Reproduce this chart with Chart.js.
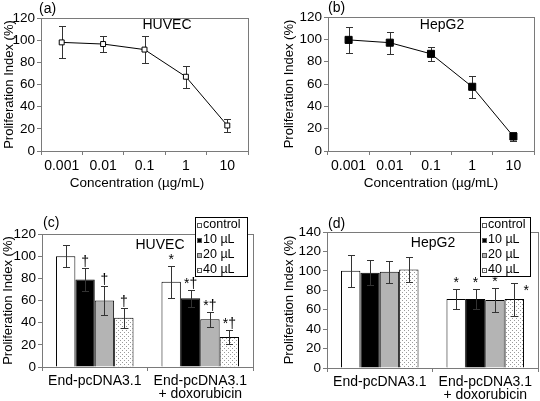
<!DOCTYPE html>
<html>
<head>
<meta charset="utf-8">
<script src="https://cdn.jsdelivr.net/npm/chart.js@4.4.1/dist/chart.umd.min.js"></script>
<style>
  html, body { margin: 0; padding: 0; background: #fff; }
  #wrap { position: relative; width: 540px; height: 401px; overflow: hidden; }
  .panel { position: absolute; }
</style>
</head>
<body>
<div id="wrap">
  <div class="panel" style="left:0;top:0;width:270px;height:200px"><canvas id="chartA" width="270" height="200"></canvas></div>
  <div class="panel" style="left:270px;top:0;width:270px;height:200px"><canvas id="chartB" width="270" height="200"></canvas></div>
  <div class="panel" style="left:0;top:200px;width:270px;height:201px"><canvas id="chartC" width="270" height="201"></canvas></div>
  <div class="panel" style="left:270px;top:200px;width:270px;height:201px"><canvas id="chartD" width="270" height="201"></canvas></div>
</div>
<script>
// --- data ---
const concLabels = ['0.001', '0.01', '0.1', '1', '10'];

const huvecConc    = [98, 96.5, 91.5, 67, 23];
const huvecConcErr = [14.5, 7, 12, 10, 6];

const hepg2Conc    = [99.5, 97, 87, 57.5, 13];
const hepg2ConcErr = [11.5, 10, 6, 10, 4];

const groupLabels = ['End-pcDNA3.1', ['End-pcDNA3.1', '+ doxorubicin']];
const doseLabels  = ['control', '10 µL', '20 µL', '40 µL'];

// HUVEC bars, one array per dose: [End-pcDNA3.1, + doxorubicin]
const huvecControl = [100, 77];
const huvec10      = [79, 62];
const huvec20      = [60, 43];
const huvec40      = [44.5, 27];
const huvecErr     = [[10, 14.5], [10, 7.5], [13.5, 7], [9, 6]];
const huvecMarks   = [['', '*'], ['†', '*†'], ['†', '*†'], ['†', '*†']];

// HepG2 bars
const hepg2Control = [100, 71];
const hepg2_10     = [98, 71];
const hepg2_20     = [99, 70];
const hepg2_40     = [101.5, 71];
const hepg2Err     = [[16.5, 10], [13, 10.5], [11, 12], [13, 17]];
const hepg2Marks   = [['', '*'], ['', '*'], ['', '*'], ['', '*']];

const yTicksA = [0, 120, 20];   // min, max, step
const yTicksC = [0, 120, 20];
const yTicksD = [0, 140, 20];

// --- styling ---
const FONT = 'Liberation Sans, Arial, Helvetica, sans-serif';
const AXIS_GRAY = '#7a7a7a';
const ERR_COLOR = '#333';

function dotPattern() {
  const c = document.createElement('canvas');
  c.width = 4; c.height = 4;
  const g = c.getContext('2d');
  g.fillStyle = '#fff';
  g.fillRect(0, 0, 4, 4);
  g.fillStyle = '#9a9a9a';
  g.fillRect(0, 0, 1, 1);
  g.fillRect(2, 2, 1, 1);
  return g.createPattern(c, 'repeat');
}

// frame around the plot area
const framePlugin = {
  id: 'frame',
  afterDatasetsDraw(chart) {
    const { ctx, chartArea: a } = chart;
    ctx.save();
    ctx.strokeStyle = AXIS_GRAY;
    ctx.lineWidth = 1;
    ctx.strokeRect(Math.round(a.left) + 0.5, Math.round(a.top) + 0.5,
      Math.round(a.right - a.left), Math.round(a.bottom - a.top));
    ctx.restore();
  }
};

// vertical error bars with caps, values taken from dataset.errors
function drawErrors(chart) {
  const { ctx } = chart;
  const y = chart.scales.y;
  ctx.save();
  ctx.strokeStyle = ERR_COLOR;
  ctx.lineWidth = 1;
  chart.data.datasets.forEach((ds, di) => {
    if (!ds.errors) return;
    const meta = chart.getDatasetMeta(di);
    meta.data.forEach((el, i) => {
      const v = ds.data[i], e = ds.errors[i];
      const x = Math.round(el.x) + 0.5;
      const top = Math.round(y.getPixelForValue(v + e)) + 0.5;
      const bot = Math.round(y.getPixelForValue(v - e)) + 0.5;
      ctx.beginPath();
      ctx.moveTo(x, top); ctx.lineTo(x, bot);
      ctx.moveTo(x - 3.5, top); ctx.lineTo(x + 3.5, top);
      ctx.moveTo(x - 3.5, bot); ctx.lineTo(x + 3.5, bot);
      ctx.stroke();
    });
  });
  ctx.restore();
}

const errorPlugin = {
  id: 'errorBars',
  beforeDatasetsDraw(chart, args, opts) { if (opts.under) drawErrors(chart); },
  afterDatasetsDraw(chart, args, opts) { if (!opts.under) drawErrors(chart); }
};

// panel letter, cell-line name, x title, significance marks, boxed legend
const notesPlugin = {
  id: 'notes',
  afterDraw(chart, args, o) {
    const { ctx } = chart;
    const y = chart.scales.y;
    ctx.save();
    ctx.fillStyle = '#000';
    ctx.textBaseline = 'middle';
    ctx.font = '14px ' + FONT;
    ctx.textAlign = 'left';
    ctx.fillText(o.letter, o.letterPos[0], o.letterPos[1]);
    ctx.textAlign = 'center';
    ctx.fillText(o.title, o.titlePos[0], o.titlePos[1]);

    if (o.xTitle) {
      ctx.font = '13.5px ' + FONT;
      ctx.fillText(o.xTitle, o.xTitlePos[0], o.xTitlePos[1]);
    }

    if (o.marks) {
      ctx.font = '14px ' + FONT;
      ctx.textBaseline = 'alphabetic';
      chart.data.datasets.forEach((ds, di) => {
        const meta = chart.getDatasetMeta(di);
        meta.data.forEach((el, i) => {
          const t = o.marks[di][i];
          if (!t) return;
          const shift = (o.markShift && o.markShift[di] && o.markShift[di][i]) || [0, 0];
          const top = y.getPixelForValue(ds.data[i] + ds.errors[i]);
          ctx.fillText(t, el.x + shift[0], top - 2 + shift[1]);
        });
      });
    }

    if (o.legendBox) {
      const [lx, ly, lw, lh] = o.legendBox;
      ctx.fillStyle = '#fff';
      ctx.fillRect(lx, ly, lw, lh);
      ctx.strokeStyle = '#000';
      ctx.lineWidth = 1;
      ctx.strokeRect(lx + 0.5, ly + 0.5, lw, lh);
      ctx.font = '12.5px ' + FONT;
      ctx.textAlign = 'left';
      ctx.textBaseline = 'middle';
      chart.data.datasets.forEach((ds, di) => {
        const cy = ly + 8 + di * 15;
        ctx.fillStyle = ds.backgroundColor;
        ctx.fillRect(lx + 2, cy - 2, 5, 5);
        ctx.strokeStyle = '#555';
        ctx.strokeRect(lx + 2.5, cy - 1.5, 4, 4);
        ctx.fillStyle = '#000';
        ctx.fillText(ds.label, lx + o.legendTextX, cy);
      });
    }
    ctx.restore();
  }
};

function axisX(height, size, lineHeight, pad) {
  return {
    offset: true,
    afterFit: s => { s.height = height; },
    grid: { offset: true, drawOnChartArea: false, drawTicks: true, tickLength: 4, color: AXIS_GRAY },
    border: { color: AXIS_GRAY },
    ticks: { color: '#000', font: { family: FONT, size: size, lineHeight: lineHeight }, padding: pad, maxRotation: 0, autoSkip: false }
  };
}

function axisY(range, width, titlePad) {
  return {
    min: range[0], max: range[1],
    afterFit: s => { s.width = width; },
    grid: { drawOnChartArea: false, drawTicks: true, tickLength: 4, color: AXIS_GRAY },
    border: { color: AXIS_GRAY },
    ticks: { stepSize: range[2], color: '#000', font: { family: FONT, size: 13.5 }, padding: 2 },
    title: { display: true, text: 'Proliferation Index (%)', color: '#000', font: { family: FONT, size: 13 }, padding: { top: titlePad, bottom: 0 } }
  };
}

function lineChart(id, values, errors, filled, pad, yWidth, titlePad, title, letter, titlePos, letterPos, xTitlePos) {
  new Chart(document.getElementById(id), {
    type: 'line',
    data: {
      labels: concLabels,
      datasets: [{
        data: values,
        errors: errors,
        borderColor: '#000',
        borderWidth: 1,
        pointStyle: 'rect',
        pointRadius: filled ? 5 : 3.5,
        pointBackgroundColor: filled ? '#000' : '#fff',
        pointBorderColor: '#000',
        pointBorderWidth: 1,
        tension: 0
      }]
    },
    options: {
      responsive: false,
      animation: false,
      layout: { padding: pad },
      plugins: {
        legend: { display: false },
        tooltip: { enabled: false },
        errorBars: { under: true },
        notes: { title, letter, titlePos, letterPos, xTitle: 'Concentration (µg/mL)', xTitlePos }
      },
      scales: { x: axisX(49, 14, 1.2, 3), y: axisY(yTicksA, yWidth, titlePad) }
    },
    plugins: [errorPlugin, framePlugin, notesPlugin]
  });
}

function barChart(id, series, errs, marks, yRange, pad, yWidth, xHeight, titlePad, title, letter, titlePos, letterPos, legendBox, legendTextX, markShift) {
  const fills = ['#ffffff', '#000000', '#b4b4b4', dotPattern()];
  new Chart(document.getElementById(id), {
    type: 'bar',
    data: {
      labels: groupLabels,
      datasets: series.map((vals, i) => ({
        label: doseLabels[i],
        data: vals,
        errors: errs[i],
        backgroundColor: fills[i],
        borderColor: '#000',
        borderWidth: 1,
        barPercentage: 1,
        categoryPercentage: 0.735
      }))
    },
    options: {
      responsive: false,
      animation: false,
      layout: { padding: pad },
      plugins: {
        legend: { display: false },
        tooltip: { enabled: false },
        errorBars: { under: false },
        notes: { title, letter, titlePos, letterPos, marks, markShift, legendBox, legendTextX }
      },
      scales: { x: axisX(xHeight, 14, 0.95, 3), y: axisY(yRange, yWidth, titlePad) }
    },
    plugins: [errorPlugin, framePlugin, notesPlugin]
  });
}

lineChart('chartA', huvecConc, huvecConcErr, false,
  { left: 0, top: 18, right: 22, bottom: 0 }, 41, 2, 'HUVEC', '(a)', [167, 25], [39, 9], [137, 183]);
lineChart('chartB', hepg2Conc, hepg2ConcErr, true,
  { left: 0, top: 17, right: 2, bottom: 0 }, 58, 12, 'HepG2', '(b)', [172, 25], [58, 8], [161, 183]);

barChart('chartC', [huvecControl, huvec10, huvec20, huvec40], huvecErr, huvecMarks, yTicksC,
  { left: 0, top: 34, right: 17, bottom: 0 }, 42, 34, 1, 'HUVEC', '(c)', [160, 45], [43, 23],
  [195, 17, 52, 59], 8, null);
barChart('chartD', [hepg2Control, hepg2_10, hepg2_20, hepg2_40], hepg2Err, hepg2Marks, yTicksD,
  { left: 0, top: 32, right: 2, bottom: 0 }, 57, 33, 12, 'HepG2', '(d)', [163, 43], [58, 24],
  [210, 17, 50, 59], 8, [[0, 0], [0, 0], [0, 0], [[0, 0], [12, 14]]]);
</script>
</body>
</html>
